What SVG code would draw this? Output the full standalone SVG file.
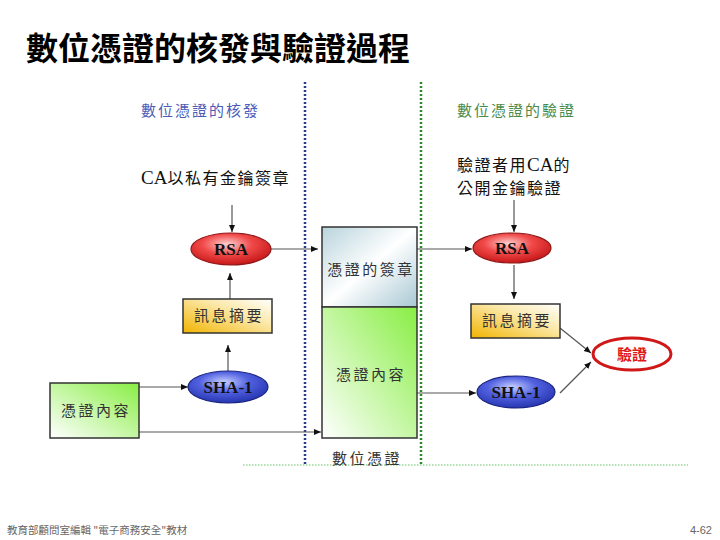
<svg xmlns="http://www.w3.org/2000/svg" width="720" height="540" viewBox="0 0 720 540">
<style>
.cjk{font-family:"Noto Sans CJK TC","Noto Sans CJK SC",sans-serif}
.lbl{font-family:"Noto Sans CJK TC",sans-serif;font-size:15px;fill:#333;text-anchor:middle;letter-spacing:2.5px}
.ell{font-family:"Liberation Serif","Noto Sans CJK TC",serif;font-weight:bold;font-size:17px;fill:#111;text-anchor:middle}
.con{stroke:#555;stroke-width:1.2;fill:none;marker-end:url(#ah)}
.box{stroke:#333;stroke-width:1.5}
</style>
<defs>
<marker id="ah" markerWidth="8" markerHeight="8" refX="7" refY="4" orient="auto" markerUnits="userSpaceOnUse"><path d="M0,1 L7,4 L0,7 Z" fill="#111"/></marker>
<radialGradient id="gRed" cx="0.45" cy="0.35" r="0.7"><stop offset="0" stop-color="#ffd0d0"/><stop offset="0.45" stop-color="#f04848"/><stop offset="1" stop-color="#c01010"/></radialGradient>
<radialGradient id="gBlue" cx="0.45" cy="0.35" r="0.7"><stop offset="0" stop-color="#c8d0ff"/><stop offset="0.45" stop-color="#5060e0"/><stop offset="1" stop-color="#2030a8"/></radialGradient>
<linearGradient id="gGold" x1="0" y1="1" x2="1" y2="0"><stop offset="0" stop-color="#f2b400"/><stop offset="0.6" stop-color="#fbe8a8"/><stop offset="1" stop-color="#ffffff"/></linearGradient>
<linearGradient id="gGreen" x1="0" y1="1" x2="1" y2="0"><stop offset="0" stop-color="#ffffff"/><stop offset="1" stop-color="#88ee44"/></linearGradient>
<linearGradient id="gTeal" x1="0" y1="0" x2="1" y2="1"><stop offset="0" stop-color="#b8d4dc"/><stop offset="0.5" stop-color="#ffffff"/><stop offset="1" stop-color="#a8c8d4"/></linearGradient>
</defs>
<rect width="720" height="540" fill="#fff"/>
<text x="26" y="60" class="cjk" font-size="32" font-weight="bold" fill="#000">數位憑證的核發與驗證過程</text>

<g id="dividers">
<line x1="305" y1="82" x2="305" y2="466" stroke="#2a3a8a" stroke-width="2.5" stroke-dasharray="2,2"/>
<line x1="421" y1="82" x2="421" y2="466" stroke="#2a8a2a" stroke-width="2.5" stroke-dasharray="2,2"/>
<line x1="243" y1="465" x2="688" y2="465" stroke="#9ad89a" stroke-width="1.5" stroke-dasharray="1.5,1.5"/>
</g>

<g id="headers">
<text x="141" y="116" class="cjk" font-size="15" fill="#4a5cb8" letter-spacing="2">數位憑證的核發</text>
<text x="457" y="116" class="cjk" font-size="15" fill="#4a8a4a" letter-spacing="2">數位憑證的驗證</text>
</g>

<g id="ca-sign"><text x="141" y="184" class="cjk" font-size="16" fill="#111" letter-spacing="1.5"><tspan font-family="Liberation Serif" font-size="19" letter-spacing="0">CA</tspan>以私有金鑰簽章</text></g>
<g id="verifier"><text x="457" y="171" class="cjk" font-size="16" fill="#111" letter-spacing="1.5">驗證者用<tspan font-family="Liberation Serif" font-size="19" letter-spacing="0">CA</tspan>的</text>
<text x="457" y="194" class="cjk" font-size="16" fill="#111" letter-spacing="1.5">公開金鑰驗證</text></g>

<g id="connectors">
<line x1="232" y1="205" x2="232" y2="232" class="con"/>
<line x1="270" y1="249" x2="318" y2="249" class="con"/>
<line x1="230" y1="299" x2="230" y2="273" class="con"/>
<line x1="228" y1="372" x2="228" y2="345" class="con"/>
<line x1="139" y1="387" x2="188" y2="387" class="con"/>
<line x1="139" y1="432" x2="321" y2="432" class="con"/>
<line x1="417" y1="249" x2="472" y2="249" class="con"/>
<line x1="514" y1="200" x2="514" y2="232" class="con"/>
<line x1="514" y1="265" x2="514" y2="299" class="con"/>
<line x1="560" y1="328" x2="591" y2="353" class="con"/>
<line x1="417" y1="393" x2="476" y2="393" class="con"/>
<line x1="560" y1="393" x2="591" y2="362" class="con"/>
</g>

<g id="rsa-left"><ellipse cx="231" cy="249" rx="40" ry="16" fill="url(#gRed)" stroke="#901818" stroke-width="1.2"/><text x="231" y="255" class="ell">RSA</text></g>
<g id="digest-left"><rect x="183" y="299" width="89" height="34" fill="url(#gGold)" class="box"/><text x="229" y="321" class="lbl">訊息摘要</text></g>
<g id="sha-left"><ellipse cx="228" cy="387" rx="40" ry="16" fill="url(#gBlue)" stroke="#1a2480" stroke-width="1.2"/><text x="228" y="393" class="ell">SHA-1</text></g>
<g id="content-left"><rect x="50" y="383" width="89" height="55" fill="url(#gGreen)" class="box"/><text x="96" y="416" class="lbl">憑證內容</text></g>

<g id="certificate">
<rect x="322" y="227" width="95" height="80" fill="url(#gTeal)" class="box"/>
<rect x="322" y="307" width="95" height="131" fill="url(#gGreen)" class="box"/>
<text x="371" y="275" class="lbl" letter-spacing="1.5">憑證的簽章</text>
<text x="371" y="380" class="lbl">憑證內容</text>
<text x="367" y="464" class="lbl" fill="#444">數位憑證</text>
</g>

<g id="rsa-right"><ellipse cx="512" cy="248" rx="39" ry="15" fill="url(#gRed)" stroke="#901818" stroke-width="1.2"/><text x="512" y="254" class="ell">RSA</text></g>
<g id="digest-right"><rect x="471" y="304" width="89" height="34" fill="url(#gGold)" class="box"/><text x="517" y="326" class="lbl">訊息摘要</text></g>
<g id="sha-right"><ellipse cx="516" cy="392" rx="39" ry="16" fill="url(#gBlue)" stroke="#1a2480" stroke-width="1.2"/><text x="516" y="398" class="ell">SHA-1</text></g>
<g id="verify"><ellipse cx="632" cy="354" rx="39" ry="16" fill="#fff" stroke="#d01818" stroke-width="3"/><text x="632" y="360" class="cjk" font-size="15" font-weight="bold" fill="#e01818" text-anchor="middle">驗證</text></g>

<g id="footer">
<text x="7" y="534" class="cjk" font-size="10.5" fill="#666">教育部顧問室編輯 "電子商務安全"教材</text>
<text x="712" y="534" font-family="Liberation Sans,sans-serif" font-size="11" fill="#666" text-anchor="end">4-62</text>
</g>
</svg>
